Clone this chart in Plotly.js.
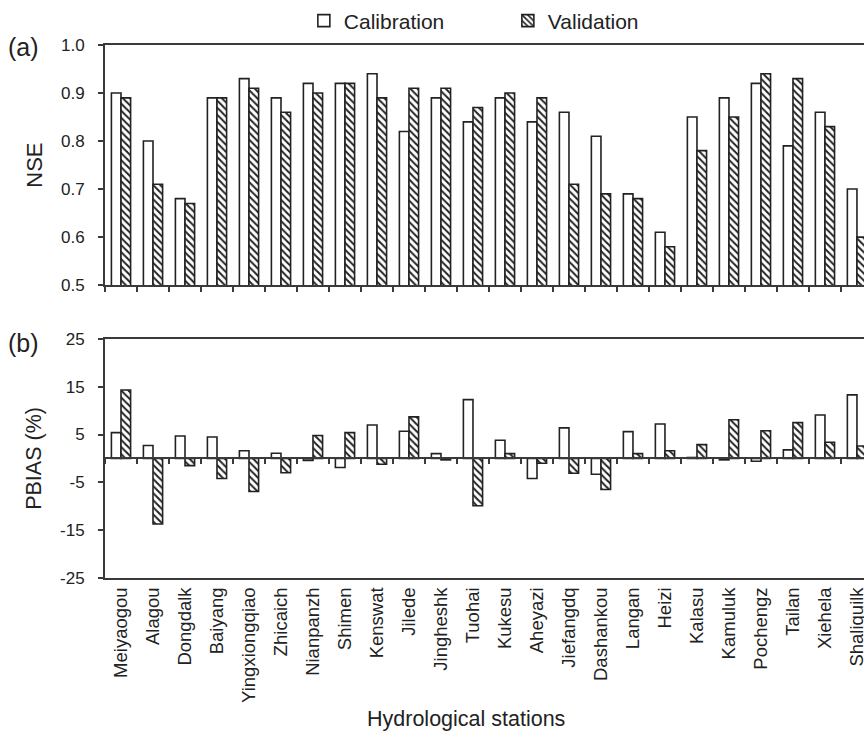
<!DOCTYPE html>
<html>
<head>
<meta charset="utf-8">
<script src="https://cdn.plot.ly/plotly-3.0.1.min.js"></script>
<style>html,body{margin:0;padding:0;background:#fff;}#chart{width:864px;height:739px;}</style>
</head>
<body>
<div id="chart"></div>
<script>
const stations = ["Meiyaogou","Alagou","Dongdalk","Baiyang","Yingxiongqiao","Zhicaich","Nianpanzh","Shimen","Kenswat","Jilede","Jingheshk","Tuohai","Kukesu","Aheyazi","Jiefangdq","Dashankou","Langan","Heizi","Kalasu","Kamuluk","Pochengz","Tailan","Xiehela","Shaliquilk"];
const nseCal = [0.90,0.80,0.68,0.89,0.93,0.89,0.92,0.92,0.94,0.82,0.89,0.84,0.89,0.84,0.86,0.81,0.69,0.61,0.85,0.89,0.92,0.79,0.86,0.70];
const nseVal = [0.89,0.71,0.67,0.89,0.91,0.86,0.90,0.92,0.89,0.91,0.91,0.87,0.90,0.89,0.71,0.69,0.68,0.58,0.78,0.85,0.94,0.93,0.83,0.60];
const pbiasCal = [5.4,2.7,4.7,4.5,1.6,1.1,-0.4,-1.9,7.0,5.7,1.0,12.3,3.8,-4.2,6.4,-3.3,5.6,7.2,0.2,-0.3,-0.6,1.8,9.1,13.3];
const pbiasVal = [14.3,-13.7,-1.5,-4.2,-6.9,-3.0,4.8,5.4,-1.2,8.7,-0.3,-9.9,1.0,-1.0,-3.1,-6.5,1.0,1.6,2.9,8.1,5.8,7.5,3.4,2.6];
const pbiasTicks = [-25,-15,-5,5,15,25];
const pbiasTickLabels = ["-25","-15","-5","5","15","25"];

const ink = '#222';
const axisCol = '#3a3a3a';
const FONT = 'Liberation Sans, Arial, sans-serif';
const calStyle = {color:'#ffffff', line:{color:ink, width:1.6}};
const valStyle = {color:'#ffffff', line:{color:ink, width:1.6},
  pattern:{shape:'\\', fgcolor:ink, bgcolor:'#ffffff', size:5, solidity:0.4}};

const traces = [
  {type:'bar', name:'Calibration', x:stations, y:nseCal, xaxis:'x', yaxis:'y', marker:calStyle, legendgroup:'c'},
  {type:'bar', name:'Validation', x:stations, y:nseVal, xaxis:'x', yaxis:'y', marker:valStyle, legendgroup:'v'},
  {type:'bar', name:'Calibration', x:stations, y:pbiasCal, xaxis:'x2', yaxis:'y2', marker:calStyle, legendgroup:'c', showlegend:false},
  {type:'bar', name:'Validation', x:stations, y:pbiasVal, xaxis:'x2', yaxis:'y2', marker:valStyle, legendgroup:'v', showlegend:false},
  {type:'scatter', mode:'markers', x:stations, y:stations.map(()=>0), xaxis:'x3', yaxis:'y2',
   marker:{opacity:0, size:1}, showlegend:false, hoverinfo:'skip'}
];

const xRange = [-0.5, 23.22];
const topDom = [0.5495, 1];
const botDom = [0, 0.4486];
const zeroPos = botDom[0] + (botDom[1]-botDom[0]) * 0.5;

const common = {type:'category', range:xRange, showline:true, linecolor:axisCol, linewidth:2,
  showgrid:false, zeroline:false, tickson:'boundaries', ticklen:5, tickwidth:1.5, tickcolor:axisCol};

const layout = {
  width:864, height:739,
  margin:{l:105, r:0, t:43, b:161},
  paper_bgcolor:'#fff', plot_bgcolor:'#fff',
  font:{family:FONT, color:ink, size:17},
  barmode:'group', bargap:0.4, bargroupgap:0,
  showlegend:true,
  legend:{orientation:'h', x:0.262, xanchor:'left', y:1.045, yanchor:'middle',
          font:{size:21, family:FONT, color:ink}, entrywidth:159, bgcolor:'rgba(0,0,0,0)'},
  xaxis:Object.assign({}, common, {domain:[0,1], anchor:'y', ticks:'outside', showticklabels:false, mirror:true}),
  yaxis:{domain:topDom, anchor:'x', range:[0.5,1.0], dtick:0.1, tick0:0.5, tickformat:'.1f',
         showline:true, linecolor:axisCol, linewidth:2, ticks:'outside', ticklen:5, tickwidth:1.5, tickcolor:axisCol,
         showgrid:false, zeroline:false, ticklabelstandoff:10, tickfont:{size:17},
         title:{text:'NSE', font:{size:22}, standoff:12}},
  xaxis2:Object.assign({}, common, {domain:[0,1], anchor:'y2', ticks:'', showticklabels:true, mirror:true,
         tickangle:-90, tickfont:{size:18.5}}),
  xaxis3:Object.assign({}, common, {overlaying:'x2', anchor:'free', position:zeroPos, ticks:'outside',
         showticklabels:false}),
  yaxis2:{domain:botDom, anchor:'x2', range:[-25,25], tickvals:pbiasTicks, ticktext:pbiasTickLabels,
         showline:true, linecolor:axisCol, linewidth:2, ticks:'outside', ticklen:5, tickwidth:1.5, tickcolor:axisCol,
         showgrid:false, zeroline:false, ticklabelstandoff:10, tickfont:{size:17},
         title:{text:'PBIAS (%)', font:{size:21.5}, standoff:12}},
  annotations:[
    {text:'(a)', xref:'paper', yref:'paper', x:-0.13, y:0.996, xanchor:'left', yanchor:'middle', showarrow:false, font:{size:25}},
    {text:'(b)', xref:'paper', yref:'paper', x:-0.13, y:0.441, xanchor:'left', yanchor:'middle', showarrow:false, font:{size:25}},
    {text:'Hydrological stations', xref:'paper', yref:'paper', x:0.4756, y:-0.265, xanchor:'center', yanchor:'middle', showarrow:false, font:{size:21.5}}
  ]
};

Plotly.newPlot('chart', traces, layout, {displayModeBar:false, responsive:false});
</script>
</body>
</html>
